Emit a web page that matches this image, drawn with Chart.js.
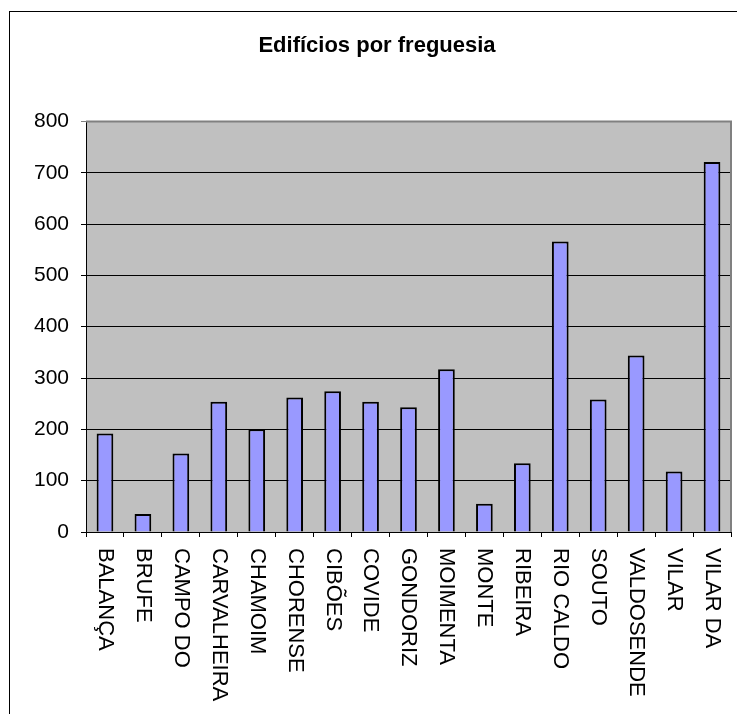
<!DOCTYPE html>
<html lang="pt">
<head>
  <meta charset="UTF-8">
  <title>Edifícios por freguesia</title>
  <script src="https://cdn.jsdelivr.net/npm/chart.js"></script>
  <style>
    html, body { margin: 0; padding: 0; background: #fff; }
    #wrap { width: 737px; height: 714px; position: relative; }
  </style>
</head>
<body>

<div id="wrap">
  <canvas id="chart" width="737" height="714"></canvas>
</div>

<script>
const freguesias = ['BALANÇA', 'BRUFE', 'CAMPO DO', 'CARVALHEIRA', 'CHAMOIM', 'CHORENSE', 'CIBÕES', 'COVIDE',
  'GONDORIZ', 'MOIMENTA', 'MONTE', 'RIBEIRA', 'RIO CALDO', 'SOUTO', 'VALDOSENDE', 'VILAR', 'VILAR DA'];
const edificios = [192, 35, 153, 254, 200, 262, 274, 254, 243, 317, 55, 134, 566, 258, 344, 118, 721];
const yMin = 0, yMax = 800, yStep = 100;

// white page, outer frame and grey plot area like the Excel original
const frame = {
  id: 'frame',
  beforeDraw(chart) {
    const ctx = chart.ctx, a = chart.chartArea;
    ctx.save();
    ctx.fillStyle = '#fff';
    ctx.fillRect(0, 0, chart.width, chart.height);
    ctx.strokeStyle = '#000';
    ctx.lineWidth = 1;
    ctx.strokeRect(9.5, 11.5, chart.width + 20, chart.height + 20);
    ctx.fillStyle = '#c0c0c0';
    ctx.fillRect(a.left, a.top, a.right - a.left, a.bottom - a.top);
    ctx.restore();
  },
  afterDatasetsDraw(chart) {
    const ctx = chart.ctx, a = chart.chartArea;
    ctx.save();
    ctx.strokeStyle = '#808080';
    ctx.lineWidth = 2;
    ctx.beginPath();
    ctx.moveTo(a.left, a.top);
    ctx.lineTo(a.right, a.top);
    ctx.lineTo(a.right, a.bottom);
    ctx.stroke();
    ctx.restore();
  }
};

// x labels read top-to-bottom (rotated clockwise), placed from the x scale
const downLabels = {
  id: 'downLabels',
  afterDraw(chart) {
    const ctx = chart.ctx, xs = chart.scales.x;
    ctx.save();
    ctx.fillStyle = '#000';
    ctx.font = '22px Arial, "Liberation Sans", sans-serif';
    ctx.textAlign = 'left';
    ctx.textBaseline = 'middle';
    chart.data.labels.forEach((lab, i) => {
      ctx.save();
      ctx.translate(xs.getPixelForValue(i), xs.top + 16);
      ctx.rotate(Math.PI / 2);
      ctx.fillText(lab, 0, 0);
      ctx.restore();
    });
    ctx.restore();
  }
};

const ctx = document.getElementById('chart').getContext('2d');
new Chart(ctx, {
  type: 'bar',
  data: {
    labels: freguesias,
    datasets: [{
      data: edificios,
      backgroundColor: '#9999ff',
      borderColor: '#000',
      borderWidth: 2,
      barPercentage: 0.44,
      categoryPercentage: 1
    }]
  },
  options: {
    responsive: false,
    animation: false,
    layout: { padding: { top: 0, left: 23, right: 6, bottom: 0 } },
    plugins: {
      legend: { display: false },
      tooltip: { enabled: false },
      title: {
        display: true,
        text: 'Edifícios por freguesia',
        color: '#000',
        font: { family: 'Arial, "Liberation Sans", sans-serif', size: 22, weight: 'bold' },
        padding: { top: 33, bottom: 62 }
      }
    },
    scales: {
      x: {
        offset: true,
        grid: { offset: true, drawOnChartArea: false, color: '#000', tickLength: 5 },
        border: { color: '#000', width: 1 },
        ticks: { display: false },
        afterFit(s) { s.height = 182; }
      },
      y: {
        min: yMin,
        max: yMax,
        ticks: {
          stepSize: yStep,
          color: '#000',
          padding: 12,
          font: { family: 'Arial, "Liberation Sans", sans-serif', size: 21 }
        },
        grid: {
          color: c => (c.tick && c.tick.value === yMax) ? '#808080' : '#000',
          lineWidth: 1,
          tickLength: 5
        },
        border: { color: '#000', width: 1 },
        afterFit(s) { s.width = 63; }
      }
    }
  },
  plugins: [frame, downLabels]
});
</script>

</body>
</html>
